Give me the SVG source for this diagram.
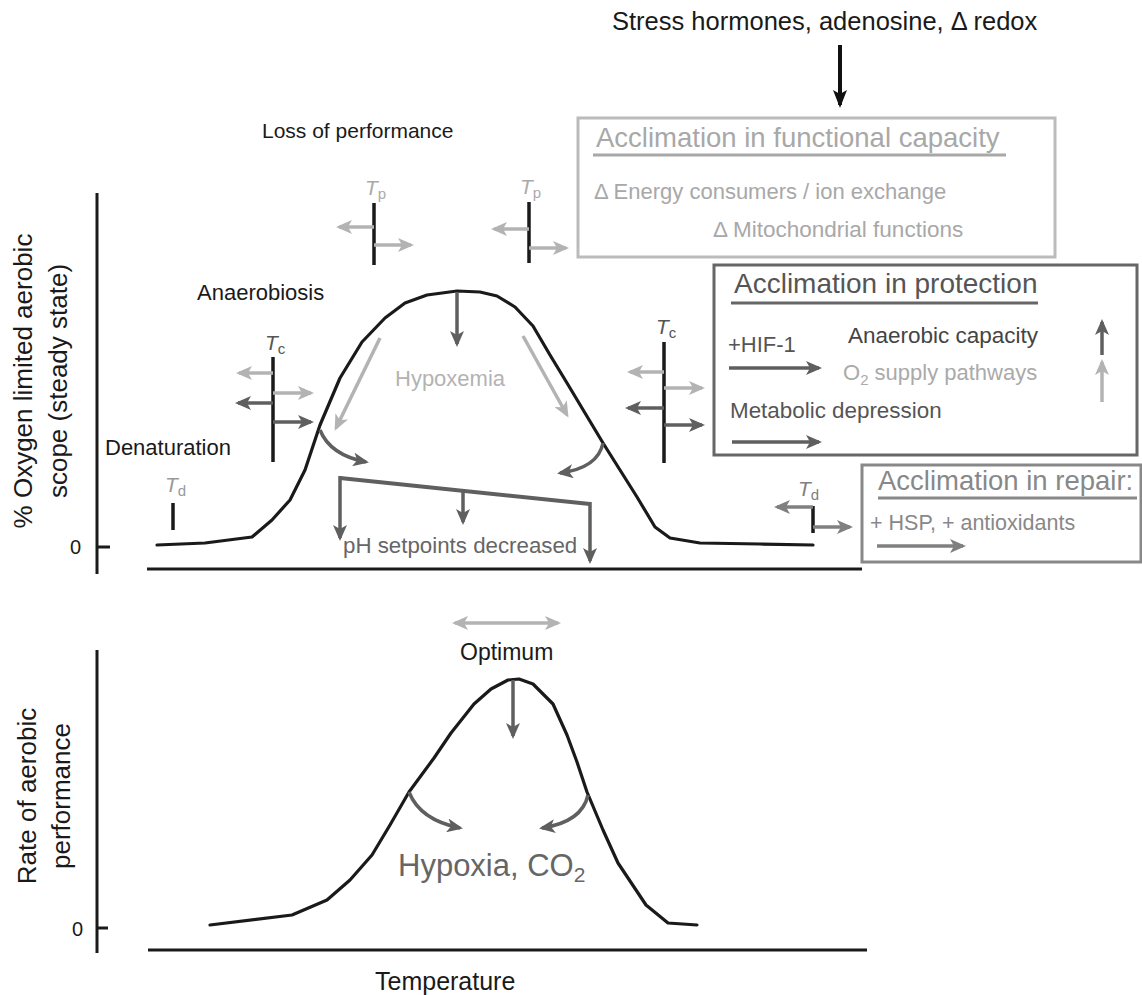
<svg xmlns="http://www.w3.org/2000/svg" width="1142" height="995" viewBox="0 0 1142 995">
<style>
text{font-family:"Liberation Sans",Arial,Helvetica,sans-serif;}
.k{fill:#1a1a1a}
.curve{fill:none;stroke:#1a1a1a;stroke-width:3.2;stroke-linejoin:round;stroke-linecap:round}
.axis{fill:none;stroke:#1a1a1a;stroke-width:3}
.dk{fill:none;stroke:#5f5f5f;stroke-width:3.5;marker-end:url(#hd)}
.lt{fill:none;stroke:#b3b3b3;stroke-width:3.5;marker-end:url(#hl)}
.md{fill:none;stroke:#808080;stroke-width:3.5;marker-end:url(#hm)}
.bar{stroke:#1a1a1a;stroke-width:3.5}
.sub{font-size:15px}
</style>
<defs>
<marker id="hd" markerUnits="userSpaceOnUse" viewBox="0 0 16 14" markerWidth="16" markerHeight="14" refX="13" refY="7" orient="auto"><path d="M0,0 L16,7 L0,14 L4,7 z" fill="#5f5f5f"/></marker>
<marker id="hl" markerUnits="userSpaceOnUse" viewBox="0 0 16 14" markerWidth="16" markerHeight="14" refX="13" refY="7" orient="auto"><path d="M0,0 L16,7 L0,14 L4,7 z" fill="#b3b3b3"/></marker>
<marker id="hm" markerUnits="userSpaceOnUse" viewBox="0 0 16 14" markerWidth="16" markerHeight="14" refX="13" refY="7" orient="auto"><path d="M0,0 L16,7 L0,14 L4,7 z" fill="#808080"/></marker>
<marker id="hk" markerUnits="userSpaceOnUse" viewBox="0 0 18 14" markerWidth="18" markerHeight="14" refX="15" refY="7" orient="auto"><path d="M0,0 L18,7 L0,14 L4,7 z" fill="#111"/></marker>
</defs>

<g id="top-chart-axes">
<line class="axis" x1="97" y1="193" x2="97" y2="574"/>
<line class="axis" x1="97" y1="547" x2="110" y2="547"/>
<line class="axis" x1="147" y1="569" x2="862" y2="569"/>
<text x="70" y="554" font-size="20" class="k">0</text>
<text transform="translate(32,381) rotate(-90)" text-anchor="middle" font-size="26" class="k">% Oxygen limited aerobic</text>
<text transform="translate(67,381) rotate(-90)" text-anchor="middle" font-size="26" class="k">scope (steady state)</text>
</g>

<g id="top-curve">
<polyline class="curve" points="157,545 205,543 252,537 272,520 290,500 305,470 320,425 340,378 362,342 385,318 405,303 427,295 457,291 480,292 497,296 515,307 533,326 550,355 567,383 585,413 603,443 620,470 637,497 655,527 670,538 700,543 760,544 813,545"/>
</g>

<g id="stress">
<text x="612" y="30" font-size="25.5" class="k">Stress hormones, adenosine, Δ redox</text>
</g>

<g id="loss-of-performance">
<text x="262" y="138" font-size="21" class="k">Loss of performance</text>
</g>

<g id="box-functional">
<rect x="578" y="118" width="477" height="139" fill="none" stroke="#bbbbbb" stroke-width="3"/>
<text x="596" y="147" font-size="27.5" fill="#a8a8a8">Acclimation in functional capacity</text>
<line x1="593" y1="155" x2="1006" y2="155" stroke="#a8a8a8" stroke-width="3"/>
<text x="594" y="199" font-size="22" fill="#a8a8a8">Δ Energy consumers / ion exchange</text>
<text x="713" y="237" font-size="22.5" fill="#a8a8a8">Δ Mitochondrial functions</text>
</g>

<g id="box-protection">
<rect x="714" y="265" width="423" height="190" fill="none" stroke="#666" stroke-width="3"/>
<text x="734" y="293" font-size="28" fill="#555">Acclimation in protection</text>
<line x1="731" y1="303" x2="1038" y2="303" stroke="#666" stroke-width="3"/>
<text x="728" y="352" font-size="22" fill="#555">+HIF-1</text>
<text x="848" y="343" font-size="22.5" fill="#444">Anaerobic capacity</text>
<text x="843" y="380" font-size="22" fill="#aaa">O<tspan class="sub" dy="5">2</tspan><tspan dy="-5"> supply pathways</tspan></text>
<text x="730" y="418" font-size="22.4" fill="#555">Metabolic depression</text>
</g>

<g id="box-repair">
<rect x="862" y="465" width="279" height="97" fill="none" stroke="#888" stroke-width="3"/>
<text x="878" y="490" font-size="27.5" fill="#888">Acclimation in repair:</text>
<line x1="878" y1="498" x2="1137" y2="498" stroke="#888" stroke-width="3"/>
<text x="870" y="530" font-size="21.5" fill="#888">+ HSP, + antioxidants</text>
</g>

<g id="labels-top">
<text x="197" y="300" font-size="22" class="k">Anaerobiosis</text>
<text x="105" y="455" font-size="22" class="k">Denaturation</text>
<text x="395" y="386" font-size="22" fill="#b3b3b3">Hypoxemia</text>
<text x="343" y="553" font-size="22.3" fill="#666">pH setpoints decreased</text>
</g>

<g id="Tp-left">
<text x="365" y="195" font-size="21" fill="#aaa"><tspan font-style="italic">T</tspan><tspan class="sub" dy="4">p</tspan></text>
<line class="bar" x1="374" y1="203" x2="374" y2="265"/>
</g>
<g id="Tp-right">
<text x="520" y="194" font-size="21" fill="#aaa"><tspan font-style="italic">T</tspan><tspan class="sub" dy="4">p</tspan></text>
<line class="bar" x1="529" y1="202" x2="529" y2="263"/>
</g>
<g id="Tc-left">
<text x="265" y="350" font-size="21" fill="#555"><tspan font-style="italic">T</tspan><tspan class="sub" dy="4">c</tspan></text>
<line class="bar" x1="273" y1="357" x2="273" y2="462"/>
</g>
<g id="Tc-right">
<text x="656" y="334" font-size="21" fill="#555"><tspan font-style="italic">T</tspan><tspan class="sub" dy="4">c</tspan></text>
<line class="bar" x1="664" y1="342" x2="664" y2="463"/>
</g>
<g id="Td-left">
<text x="165" y="492" font-size="21" fill="#999"><tspan font-style="italic">T</tspan><tspan class="sub" dy="4">d</tspan></text>
<line class="bar" x1="173" y1="503" x2="173" y2="530"/>
</g>
<g id="Td-right">
<text x="798" y="496" font-size="21" fill="#808080"><tspan font-style="italic">T</tspan><tspan class="sub" dy="4">d</tspan></text>
<line class="bar" x1="813" y1="506" x2="813" y2="533"/>
</g>

<g id="bottom-chart">
<line class="axis" x1="97" y1="650" x2="97" y2="953"/>
<line class="axis" x1="97" y1="928" x2="108" y2="928"/>
<line class="axis" x1="148" y1="950" x2="867" y2="950"/>
<text x="72" y="936" font-size="20" class="k">0</text>
<text transform="translate(36,796) rotate(-90)" text-anchor="middle" font-size="26" class="k">Rate of aerobic</text>
<text transform="translate(70,796) rotate(-90)" text-anchor="middle" font-size="26" class="k">performance</text>
<polyline class="curve" points="210,925 292,915 327,900 350,880 372,855 390,825 409,792 434,758 451,733 474,704 491,689 508,680 519,679 533,684 553,704 567,735 577,762 587,792 603,830 618,863 646,905 668,923 697,925"/>
<text x="460" y="660" font-size="23" class="k">Optimum</text>
<text x="398" y="876" font-size="31" fill="#666">Hypoxia, CO<tspan font-size="21" dy="6">2</tspan></text>
<text x="375" y="990" font-size="25" class="k">Temperature</text>
</g>

<g id="connectors">
<line x1="840" y1="45" x2="840" y2="105" stroke="#111" stroke-width="4" marker-end="url(#hk)"/>
<line class="lt" x1="374" y1="227" x2="339" y2="227"/>
<line class="lt" x1="374" y1="245" x2="411" y2="245"/>
<line class="lt" x1="529" y1="229" x2="494" y2="229"/>
<line class="lt" x1="529" y1="248" x2="566" y2="248"/>
<line class="lt" x1="273" y1="373" x2="239" y2="373"/>
<line class="lt" x1="273" y1="393" x2="311" y2="393"/>
<line class="dk" x1="273" y1="403" x2="238" y2="403"/>
<line class="dk" x1="273" y1="422" x2="311" y2="422"/>
<line class="lt" x1="664" y1="372" x2="630" y2="372"/>
<line class="lt" x1="664" y1="388" x2="702" y2="388"/>
<line class="dk" x1="664" y1="408" x2="628" y2="408"/>
<line class="dk" x1="664" y1="425" x2="702" y2="425"/>
<line class="md" x1="813" y1="507" x2="777" y2="507"/>
<line class="md" x1="813" y1="527" x2="850" y2="527"/>
<line class="dk" x1="457" y1="292" x2="457" y2="344"/>
<line class="lt" x1="380" y1="338" x2="336" y2="428"/>
<line class="lt" x1="523" y1="336" x2="567" y2="415"/>
<path class="dk" d="M320,430 Q330,455 366,462"/>
<path class="dk" d="M603,443 Q598,468 560,473"/>
<path d="M340,478 L590,504" fill="none" stroke="#5f5f5f" stroke-width="4"/>
<line class="dk" x1="340" y1="476" x2="340" y2="538"/>
<line class="dk" x1="463" y1="491" x2="463" y2="522"/>
<line class="dk" x1="590" y1="502" x2="590" y2="561"/>
<line class="dk" x1="729" y1="368" x2="819" y2="368"/>
<line class="dk" x1="732" y1="442" x2="819" y2="442"/>
<line class="dk" x1="1102" y1="355" x2="1102" y2="322"/>
<line class="lt" x1="1102" y1="402" x2="1102" y2="362"/>
<line class="md" x1="877" y1="546" x2="963" y2="546"/>
<line class="lt" x1="507" y1="623" x2="455" y2="623"/>
<line class="lt" x1="507" y1="623" x2="558" y2="623"/>
<line class="dk" x1="513" y1="680" x2="513" y2="736"/>
<path class="dk" d="M409,792 Q420,820 460,828"/>
<path class="dk" d="M588,795 Q582,822 542,828"/>
</g>
</svg>
